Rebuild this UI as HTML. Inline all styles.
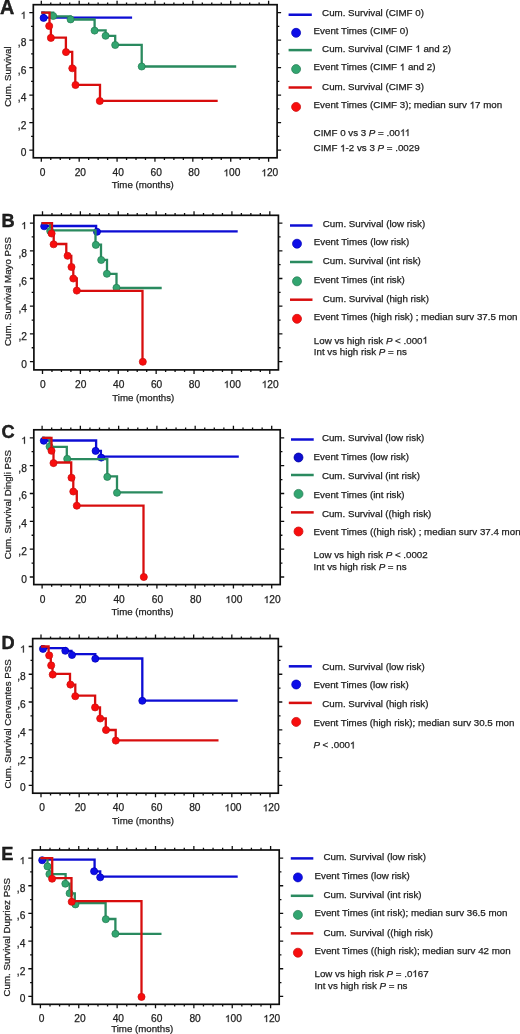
<!DOCTYPE html>
<html><head><meta charset="utf-8"><title>Kaplan-Meier survival curves</title>
<style>
html,body{margin:0;padding:0;background:#fff;}
body{width:520px;height:1034px;overflow:hidden;}
svg{display:block;}
text{font-family:"Liberation Sans", sans-serif;fill:#222;stroke:#222;stroke-width:0.25px;}
.o{fill:transparent;stroke:none;}
</style></head>
<body>
<svg width="520" height="1034" viewBox="0 0 520 1034">
<defs><filter id="soft" x="0" y="0" width="100%" height="100%"><feGaussianBlur stdDeviation="0.35"/></filter></defs>
<rect width="520" height="1034" fill="#fff"/>
<g filter="url(#soft)">
<path d="M41.3,157.8v4M41.3,4.7v-4M50.77,157.8v2.2M50.77,4.7v-2.2M60.24,157.8v2.2M60.24,4.7v-2.2M69.71,157.8v2.2M69.71,4.7v-2.2M79.18,157.8v4M79.18,4.7v-4M88.65,157.8v2.2M88.65,4.7v-2.2M98.12,157.8v2.2M98.12,4.7v-2.2M107.6,157.8v2.2M107.6,4.7v-2.2M117.07,157.8v4M117.07,4.7v-4M126.54,157.8v2.2M126.54,4.7v-2.2M136.01,157.8v2.2M136.01,4.7v-2.2M145.48,157.8v2.2M145.48,4.7v-2.2M154.95,157.8v4M154.95,4.7v-4M164.42,157.8v2.2M164.42,4.7v-2.2M173.89,157.8v2.2M173.89,4.7v-2.2M183.36,157.8v2.2M183.36,4.7v-2.2M192.83,157.8v4M192.83,4.7v-4M202.3,157.8v2.2M202.3,4.7v-2.2M211.78,157.8v2.2M211.78,4.7v-2.2M221.25,157.8v2.2M221.25,4.7v-2.2M230.72,157.8v4M230.72,4.7v-4M240.19,157.8v2.2M240.19,4.7v-2.2M249.66,157.8v2.2M249.66,4.7v-2.2M259.13,157.8v2.2M259.13,4.7v-2.2M268.6,157.8v4M268.6,4.7v-4M33.3,150.2h-4M277.1,150.2h4M33.3,136.45h-2.2M277.1,136.45h2.2M33.3,122.7h-4M277.1,122.7h4M33.3,108.95h-2.2M277.1,108.95h2.2M33.3,95.2h-4M277.1,95.2h4M33.3,81.45h-2.2M277.1,81.45h2.2M33.3,67.7h-4M277.1,67.7h4M33.3,53.95h-2.2M277.1,53.95h2.2M33.3,40.2h-4M277.1,40.2h4M33.3,26.45h-2.2M277.1,26.45h2.2M33.3,12.7h-4M277.1,12.7h4" stroke="#111" stroke-width="1.3" fill="none"/>
<rect x="33.3" y="4.7" width="243.8" height="153.1" fill="none" stroke="#111" stroke-width="1.7"/>
<text x="26.3" y="156.2" text-anchor="end" font-size="10.2">0</text>
<text x="26.3" y="128.7" text-anchor="end" font-size="10.2">,2</text>
<text x="26.3" y="101.2" text-anchor="end" font-size="10.2">,4</text>
<text x="26.3" y="73.7" text-anchor="end" font-size="10.2">,6</text>
<text x="26.3" y="46.2" text-anchor="end" font-size="10.2">,8</text>
<text x="26.3" y="18.7" text-anchor="end" font-size="10.2"><tspan class="o">1</tspan></text>
<text x="42.5" y="176.2" text-anchor="middle" font-size="10.2">0</text>
<text x="80.38" y="176.2" text-anchor="middle" font-size="10.2">20</text>
<text x="118.27" y="176.2" text-anchor="middle" font-size="10.2">40</text>
<text x="156.15" y="176.2" text-anchor="middle" font-size="10.2">60</text>
<text x="194.03" y="176.2" text-anchor="middle" font-size="10.2">80</text>
<text x="231.92" y="176.2" text-anchor="middle" font-size="10.2"><tspan class="o">1</tspan>00</text>
<text x="269.8" y="176.2" text-anchor="middle" font-size="10.2"><tspan class="o">1</tspan>20</text>
<text x="142.7" y="188.4" text-anchor="middle" font-size="9.7">Time (months)</text>
<text transform="translate(11.3,76.6) rotate(-90)" text-anchor="middle" font-size="9.7">Cum. Survival</text>
<text x="0" y="13.6" font-size="19.8" font-weight="bold" fill="#000" style="stroke:#000;stroke-width:0.35px">A</text>
<path d="M41.3,12.7 H43.6 V17.6 H132.1" stroke="#0c0cd4" stroke-width="2.3" fill="none"/>
<circle cx="43.6" cy="17.9" r="3.55" fill="#0c0ce8" stroke="#0000b4" stroke-width="0.7"/>
<path d="M41.3,12.7 H53.2 V16.3 H70.6 V19.5 H94.6 V30.4 H105.6 V35.8 H115.2 V44.9 H141.7 V66.5 H236.2" stroke="#2a8a5e" stroke-width="2.3" fill="none"/>
<circle cx="53.2" cy="16" r="3.55" fill="#33a56f" stroke="#237a52" stroke-width="0.7"/>
<circle cx="70.6" cy="19.4" r="3.55" fill="#33a56f" stroke="#237a52" stroke-width="0.7"/>
<circle cx="94.6" cy="30.6" r="3.55" fill="#33a56f" stroke="#237a52" stroke-width="0.7"/>
<circle cx="105.6" cy="35.8" r="3.55" fill="#33a56f" stroke="#237a52" stroke-width="0.7"/>
<circle cx="115.2" cy="45" r="3.55" fill="#33a56f" stroke="#237a52" stroke-width="0.7"/>
<circle cx="141.7" cy="66.5" r="3.55" fill="#33a56f" stroke="#237a52" stroke-width="0.7"/>
<path d="M41.3,12.7 H49.5 V26 H50.9 V37.6 H65.9 V51.8 H72.2 V68 H75.3 V84.8 H100 V100.8 H217.7" stroke="#d81010" stroke-width="2.3" fill="none"/>
<circle cx="49.2" cy="26" r="3.55" fill="#f80a0a" stroke="#c80808" stroke-width="0.7"/>
<circle cx="50.9" cy="37.9" r="3.55" fill="#f80a0a" stroke="#c80808" stroke-width="0.7"/>
<circle cx="66" cy="52.1" r="3.55" fill="#f80a0a" stroke="#c80808" stroke-width="0.7"/>
<circle cx="72.3" cy="68.3" r="3.55" fill="#f80a0a" stroke="#c80808" stroke-width="0.7"/>
<circle cx="75.5" cy="85" r="3.55" fill="#f80a0a" stroke="#c80808" stroke-width="0.7"/>
<circle cx="99.8" cy="101" r="3.55" fill="#f80a0a" stroke="#c80808" stroke-width="0.7"/>
<path d="M288.6,14.75H311.8" stroke="#0c0cd4" stroke-width="2.5"/>
<text x="322.1" y="16.2" font-size="9.75">Cum. Survival (CIMF 0)</text>
<circle cx="296.1" cy="32.8" r="4.5" fill="#0c0ce8" stroke="#0000b4" stroke-width="0.7"/>
<text x="313.6" y="34.4" font-size="9.75">Event Times (CIMF 0)</text>
<path d="M288.6,50.1H311.8" stroke="#2a8a5e" stroke-width="2.5"/>
<text x="322.1" y="52" font-size="9.75">Cum. Survival (CIMF <tspan class="o">1</tspan> and 2)</text>
<circle cx="296.1" cy="69.1" r="4.5" fill="#33a56f" stroke="#237a52" stroke-width="0.7"/>
<text x="313.6" y="70.4" font-size="9.75">Event Times (CIMF <tspan class="o">1</tspan> and 2)</text>
<path d="M288.6,87.5H311.8" stroke="#d81010" stroke-width="2.5"/>
<text x="322.1" y="89.6" font-size="9.75">Cum. Survival (CIMF 3)</text>
<circle cx="296.1" cy="106.9" r="4.5" fill="#f80a0a" stroke="#c80808" stroke-width="0.7"/>
<text x="313.6" y="108.4" font-size="9.75">Event Times (CIMF 3); median surv <tspan class="o">1</tspan>7 mon</text>
<text x="313.6" y="136" font-size="9.75">CIMF 0 vs 3 <tspan font-style="italic">P</tspan> = .00<tspan class="o">1</tspan><tspan class="o">1</tspan></text>
<text x="313.6" y="151.4" font-size="9.75">CIMF <tspan class="o">1</tspan>-2 vs 3 <tspan font-style="italic">P</tspan> = .0029</text>
<path d="M42.5,369.9v4M42.5,215.3v-4M51.97,369.9v2.2M51.97,215.3v-2.2M61.44,369.9v2.2M61.44,215.3v-2.2M70.91,369.9v2.2M70.91,215.3v-2.2M80.38,369.9v4M80.38,215.3v-4M89.85,369.9v2.2M89.85,215.3v-2.2M99.33,369.9v2.2M99.33,215.3v-2.2M108.8,369.9v2.2M108.8,215.3v-2.2M118.27,369.9v4M118.27,215.3v-4M127.74,369.9v2.2M127.74,215.3v-2.2M137.21,369.9v2.2M137.21,215.3v-2.2M146.68,369.9v2.2M146.68,215.3v-2.2M156.15,369.9v4M156.15,215.3v-4M165.62,369.9v2.2M165.62,215.3v-2.2M175.09,369.9v2.2M175.09,215.3v-2.2M184.56,369.9v2.2M184.56,215.3v-2.2M194.03,369.9v4M194.03,215.3v-4M203.5,369.9v2.2M203.5,215.3v-2.2M212.98,369.9v2.2M212.98,215.3v-2.2M222.45,369.9v2.2M222.45,215.3v-2.2M231.92,369.9v4M231.92,215.3v-4M241.39,369.9v2.2M241.39,215.3v-2.2M250.86,369.9v2.2M250.86,215.3v-2.2M260.33,369.9v2.2M260.33,215.3v-2.2M269.8,369.9v4M269.8,215.3v-4M33.9,361.6h-4M278.4,361.6h4M33.9,347.75h-2.2M278.4,347.75h2.2M33.9,333.9h-4M278.4,333.9h4M33.9,320.05h-2.2M278.4,320.05h2.2M33.9,306.2h-4M278.4,306.2h4M33.9,292.35h-2.2M278.4,292.35h2.2M33.9,278.5h-4M278.4,278.5h4M33.9,264.65h-2.2M278.4,264.65h2.2M33.9,250.8h-4M278.4,250.8h4M33.9,236.95h-2.2M278.4,236.95h2.2M33.9,223.1h-4M278.4,223.1h4" stroke="#111" stroke-width="1.3" fill="none"/>
<rect x="33.9" y="215.3" width="244.5" height="154.6" fill="none" stroke="#111" stroke-width="1.7"/>
<text x="26.9" y="367.6" text-anchor="end" font-size="10.2">0</text>
<text x="26.9" y="339.9" text-anchor="end" font-size="10.2">,2</text>
<text x="26.9" y="312.2" text-anchor="end" font-size="10.2">,4</text>
<text x="26.9" y="284.5" text-anchor="end" font-size="10.2">,6</text>
<text x="26.9" y="256.8" text-anchor="end" font-size="10.2">,8</text>
<text x="26.9" y="229.1" text-anchor="end" font-size="10.2"><tspan class="o">1</tspan></text>
<text x="42.9" y="387.8" text-anchor="middle" font-size="10.2">0</text>
<text x="80.78" y="387.8" text-anchor="middle" font-size="10.2">20</text>
<text x="118.67" y="387.8" text-anchor="middle" font-size="10.2">40</text>
<text x="156.55" y="387.8" text-anchor="middle" font-size="10.2">60</text>
<text x="194.43" y="387.8" text-anchor="middle" font-size="10.2">80</text>
<text x="232.32" y="387.8" text-anchor="middle" font-size="10.2"><tspan class="o">1</tspan>00</text>
<text x="270.2" y="387.8" text-anchor="middle" font-size="10.2"><tspan class="o">1</tspan>20</text>
<text x="143.25" y="401.4" text-anchor="middle" font-size="9.7">Time (months)</text>
<text transform="translate(11.2,291.5) rotate(-90)" text-anchor="middle" font-size="9.7">Cum. Survival Mayo PSS</text>
<text x="1.6" y="227.1" font-size="18.2" font-weight="bold" fill="#000" style="stroke:#000;stroke-width:0.35px">B</text>
<path d="M41.6,223.1 H44.2 V226 H96.1 V231.3 H237.7" stroke="#0c0cd4" stroke-width="2.3" fill="none"/>
<circle cx="44.2" cy="226.3" r="3.55" fill="#0c0ce8" stroke="#0000b4" stroke-width="0.7"/>
<circle cx="97" cy="231.8" r="3.55" fill="#0c0ce8" stroke="#0000b4" stroke-width="0.7"/>
<path d="M41.6,223.1 H50.2 V230.4 H95.5 V244.7 H101 V259.8 H107 V273.8 H116.5 V288 H161.7" stroke="#2a8a5e" stroke-width="2.3" fill="none"/>
<circle cx="50.2" cy="231" r="3.55" fill="#33a56f" stroke="#237a52" stroke-width="0.7"/>
<circle cx="95.8" cy="244.9" r="3.55" fill="#33a56f" stroke="#237a52" stroke-width="0.7"/>
<circle cx="101.2" cy="260" r="3.55" fill="#33a56f" stroke="#237a52" stroke-width="0.7"/>
<circle cx="106.9" cy="273.8" r="3.55" fill="#33a56f" stroke="#237a52" stroke-width="0.7"/>
<circle cx="116.5" cy="287.8" r="3.55" fill="#33a56f" stroke="#237a52" stroke-width="0.7"/>
<path d="M41.6,223.1 H52 V233.5 H53.7 V244 H66.3 V255.8 H71.3 V267 H73.3 V278.5 H76.8 V290.8 H142.5 V361.6" stroke="#d81010" stroke-width="2.3" fill="none"/>
<circle cx="51.6" cy="233.5" r="3.55" fill="#f80a0a" stroke="#c80808" stroke-width="0.7"/>
<circle cx="53.6" cy="244.3" r="3.55" fill="#f80a0a" stroke="#c80808" stroke-width="0.7"/>
<circle cx="67.6" cy="255.8" r="3.55" fill="#f80a0a" stroke="#c80808" stroke-width="0.7"/>
<circle cx="71.5" cy="267" r="3.55" fill="#f80a0a" stroke="#c80808" stroke-width="0.7"/>
<circle cx="73.3" cy="278.5" r="3.55" fill="#f80a0a" stroke="#c80808" stroke-width="0.7"/>
<circle cx="76.8" cy="290.6" r="3.55" fill="#f80a0a" stroke="#c80808" stroke-width="0.7"/>
<circle cx="142.8" cy="361.8" r="3.55" fill="#f80a0a" stroke="#c80808" stroke-width="0.7"/>
<path d="M290,225.5H312.5" stroke="#0c0cd4" stroke-width="2.5"/>
<text x="322.8" y="227.3" font-size="9.75">Cum. Survival (low risk)</text>
<circle cx="297" cy="243.7" r="4.5" fill="#0c0ce8" stroke="#0000b4" stroke-width="0.7"/>
<text x="313.8" y="244.9" font-size="9.75">Event Times (low risk)</text>
<path d="M290,262H312.5" stroke="#2a8a5e" stroke-width="2.5"/>
<text x="322.8" y="264.1" font-size="9.75">Cum. Survival (int risk)</text>
<circle cx="297" cy="281.3" r="4.5" fill="#33a56f" stroke="#237a52" stroke-width="0.7"/>
<text x="313.8" y="282.6" font-size="9.75">Event Times (int risk)</text>
<path d="M290,299.7H312.5" stroke="#d81010" stroke-width="2.5"/>
<text x="322.8" y="301.5" font-size="9.75">Cum. Survival (high risk)</text>
<circle cx="297" cy="318.8" r="4.5" fill="#f80a0a" stroke="#c80808" stroke-width="0.7"/>
<text x="313.8" y="319.8" font-size="9.75">Event Times (high risk) ; median surv 37.5 mon</text>
<text x="313.8" y="343.5" font-size="9.75">Low vs high risk <tspan font-style="italic">P</tspan> &lt; .000<tspan class="o">1</tspan></text>
<text x="313.8" y="355.1" font-size="9.75">Int vs high risk <tspan font-style="italic">P</tspan> = ns</text>
<path d="M42.1,584.6v4M42.1,429.8v-4M51.67,584.6v2.2M51.67,429.8v-2.2M61.23,584.6v2.2M61.23,429.8v-2.2M70.8,584.6v2.2M70.8,429.8v-2.2M80.37,584.6v4M80.37,429.8v-4M89.93,584.6v2.2M89.93,429.8v-2.2M99.5,584.6v2.2M99.5,429.8v-2.2M109.07,584.6v2.2M109.07,429.8v-2.2M118.63,584.6v4M118.63,429.8v-4M128.2,584.6v2.2M128.2,429.8v-2.2M137.77,584.6v2.2M137.77,429.8v-2.2M147.33,584.6v2.2M147.33,429.8v-2.2M156.9,584.6v4M156.9,429.8v-4M166.47,584.6v2.2M166.47,429.8v-2.2M176.03,584.6v2.2M176.03,429.8v-2.2M185.6,584.6v2.2M185.6,429.8v-2.2M195.17,584.6v4M195.17,429.8v-4M204.73,584.6v2.2M204.73,429.8v-2.2M214.3,584.6v2.2M214.3,429.8v-2.2M223.87,584.6v2.2M223.87,429.8v-2.2M233.43,584.6v4M233.43,429.8v-4M243,584.6v2.2M243,429.8v-2.2M252.57,584.6v2.2M252.57,429.8v-2.2M262.13,584.6v2.2M262.13,429.8v-2.2M271.7,584.6v4M271.7,429.8v-4M33.8,577h-4M280.2,577h4M33.8,563.08h-2.2M280.2,563.08h2.2M33.8,549.16h-4M280.2,549.16h4M33.8,535.24h-2.2M280.2,535.24h2.2M33.8,521.32h-4M280.2,521.32h4M33.8,507.4h-2.2M280.2,507.4h2.2M33.8,493.48h-4M280.2,493.48h4M33.8,479.56h-2.2M280.2,479.56h2.2M33.8,465.64h-4M280.2,465.64h4M33.8,451.72h-2.2M280.2,451.72h2.2M33.8,437.8h-4M280.2,437.8h4" stroke="#111" stroke-width="1.3" fill="none"/>
<rect x="33.8" y="429.8" width="246.4" height="154.8" fill="none" stroke="#111" stroke-width="1.7"/>
<text x="26.8" y="583" text-anchor="end" font-size="10.2">0</text>
<text x="26.8" y="555.16" text-anchor="end" font-size="10.2">,2</text>
<text x="26.8" y="527.32" text-anchor="end" font-size="10.2">,4</text>
<text x="26.8" y="499.48" text-anchor="end" font-size="10.2">,6</text>
<text x="26.8" y="471.64" text-anchor="end" font-size="10.2">,8</text>
<text x="26.8" y="443.8" text-anchor="end" font-size="10.2"><tspan class="o">1</tspan></text>
<text x="42.6" y="603" text-anchor="middle" font-size="10.2">0</text>
<text x="80.87" y="603" text-anchor="middle" font-size="10.2">20</text>
<text x="119.13" y="603" text-anchor="middle" font-size="10.2">40</text>
<text x="157.4" y="603" text-anchor="middle" font-size="10.2">60</text>
<text x="195.67" y="603" text-anchor="middle" font-size="10.2">80</text>
<text x="233.93" y="603" text-anchor="middle" font-size="10.2"><tspan class="o">1</tspan>00</text>
<text x="272.2" y="603" text-anchor="middle" font-size="10.2"><tspan class="o">1</tspan>20</text>
<text x="142.5" y="614.9" text-anchor="middle" font-size="9.7">Time (months)</text>
<text transform="translate(11.2,504.7) rotate(-90)" text-anchor="middle" font-size="9.7">Cum. Survival Dingli PSS</text>
<text x="1.4" y="438.1" font-size="18.2" font-weight="bold" fill="#000" style="stroke:#000;stroke-width:0.35px">C</text>
<path d="M42.1,437.8 H43.8 V440.5 H96.1 V450.9 H100.9 V456.6 H238.8" stroke="#0c0cd4" stroke-width="2.3" fill="none"/>
<circle cx="43.8" cy="440.8" r="3.55" fill="#0c0ce8" stroke="#0000b4" stroke-width="0.7"/>
<circle cx="95.6" cy="450.9" r="3.55" fill="#0c0ce8" stroke="#0000b4" stroke-width="0.7"/>
<circle cx="101.2" cy="457.6" r="3.55" fill="#0c0ce8" stroke="#0000b4" stroke-width="0.7"/>
<path d="M42.1,437.8 H49.6 V446.9 H66.8 V459.2 H107.3 V476.3 H117 V492.3 H162.7" stroke="#2a8a5e" stroke-width="2.3" fill="none"/>
<circle cx="49.6" cy="446.6" r="3.55" fill="#33a56f" stroke="#237a52" stroke-width="0.7"/>
<circle cx="67.2" cy="458.9" r="3.55" fill="#33a56f" stroke="#237a52" stroke-width="0.7"/>
<circle cx="107.3" cy="476.9" r="3.55" fill="#33a56f" stroke="#237a52" stroke-width="0.7"/>
<circle cx="117" cy="492.8" r="3.55" fill="#33a56f" stroke="#237a52" stroke-width="0.7"/>
<path d="M42.1,437.8 H51.5 V450.8 H53.5 V462.5 H71.2 V477.7 H73.3 V491.5 H76.8 V505.6 H143.5 V577" stroke="#d81010" stroke-width="2.3" fill="none"/>
<circle cx="51.5" cy="450.8" r="3.55" fill="#f80a0a" stroke="#c80808" stroke-width="0.7"/>
<circle cx="53.5" cy="463.1" r="3.55" fill="#f80a0a" stroke="#c80808" stroke-width="0.7"/>
<circle cx="71.5" cy="477.7" r="3.55" fill="#f80a0a" stroke="#c80808" stroke-width="0.7"/>
<circle cx="73.3" cy="491.5" r="3.55" fill="#f80a0a" stroke="#c80808" stroke-width="0.7"/>
<circle cx="76.8" cy="505.7" r="3.55" fill="#f80a0a" stroke="#c80808" stroke-width="0.7"/>
<circle cx="143.8" cy="577" r="3.55" fill="#f80a0a" stroke="#c80808" stroke-width="0.7"/>
<path d="M291,439.5H313.7" stroke="#0c0cd4" stroke-width="2.5"/>
<text x="321.9" y="441.3" font-size="9.75">Cum. Survival (low risk)</text>
<circle cx="298.5" cy="457.5" r="4.5" fill="#0a0ad0" stroke="#00009c" stroke-width="0.7"/>
<text x="313.6" y="460.2" font-size="9.75">Event Times (low risk)</text>
<path d="M291,475H313.7" stroke="#2a8a5e" stroke-width="2.5"/>
<text x="321.9" y="478.9" font-size="9.75">Cum. Survival (int risk)</text>
<circle cx="298.5" cy="493.9" r="4.5" fill="#33a56f" stroke="#237a52" stroke-width="0.7"/>
<text x="313.6" y="497.5" font-size="9.75">Event Times (int risk)</text>
<path d="M291,512.4H313.7" stroke="#d81010" stroke-width="2.5"/>
<text x="321.9" y="516.5" font-size="9.75">Cum. Survival ((high risk)</text>
<circle cx="298.5" cy="531.5" r="4.5" fill="#f80a0a" stroke="#c80808" stroke-width="0.7"/>
<text x="313.6" y="534.8" font-size="9.75">Event Times ((high risk) ; median surv 37.4 mon</text>
<text x="313.6" y="558.3" font-size="9.75">Low vs high risk <tspan font-style="italic">P</tspan> &lt; .0002</text>
<text x="313.6" y="570.1" font-size="9.75">Int vs high risk <tspan font-style="italic">P</tspan> = ns</text>
<path d="M41,793.2v4M41,638.6v-4M50.54,793.2v2.2M50.54,638.6v-2.2M60.08,793.2v2.2M60.08,638.6v-2.2M69.62,793.2v2.2M69.62,638.6v-2.2M79.17,793.2v4M79.17,638.6v-4M88.71,793.2v2.2M88.71,638.6v-2.2M98.25,793.2v2.2M98.25,638.6v-2.2M107.79,793.2v2.2M107.79,638.6v-2.2M117.33,793.2v4M117.33,638.6v-4M126.88,793.2v2.2M126.88,638.6v-2.2M136.42,793.2v2.2M136.42,638.6v-2.2M145.96,793.2v2.2M145.96,638.6v-2.2M155.5,793.2v4M155.5,638.6v-4M165.04,793.2v2.2M165.04,638.6v-2.2M174.58,793.2v2.2M174.58,638.6v-2.2M184.12,793.2v2.2M184.12,638.6v-2.2M193.67,793.2v4M193.67,638.6v-4M203.21,793.2v2.2M203.21,638.6v-2.2M212.75,793.2v2.2M212.75,638.6v-2.2M222.29,793.2v2.2M222.29,638.6v-2.2M231.83,793.2v4M231.83,638.6v-4M241.38,793.2v2.2M241.38,638.6v-2.2M250.92,793.2v2.2M250.92,638.6v-2.2M260.46,793.2v2.2M260.46,638.6v-2.2M270,793.2v4M270,638.6v-4M32.7,785.3h-4M278.3,785.3h4M32.7,771.42h-2.2M278.3,771.42h2.2M32.7,757.54h-4M278.3,757.54h4M32.7,743.66h-2.2M278.3,743.66h2.2M32.7,729.78h-4M278.3,729.78h4M32.7,715.9h-2.2M278.3,715.9h2.2M32.7,702.02h-4M278.3,702.02h4M32.7,688.14h-2.2M278.3,688.14h2.2M32.7,674.26h-4M278.3,674.26h4M32.7,660.38h-2.2M278.3,660.38h2.2M32.7,646.5h-4M278.3,646.5h4" stroke="#111" stroke-width="1.3" fill="none"/>
<rect x="32.7" y="638.6" width="245.6" height="154.6" fill="none" stroke="#111" stroke-width="1.7"/>
<text x="25.7" y="791.3" text-anchor="end" font-size="10.2">0</text>
<text x="25.7" y="763.54" text-anchor="end" font-size="10.2">,2</text>
<text x="25.7" y="735.78" text-anchor="end" font-size="10.2">,4</text>
<text x="25.7" y="708.02" text-anchor="end" font-size="10.2">,6</text>
<text x="25.7" y="680.26" text-anchor="end" font-size="10.2">,8</text>
<text x="25.7" y="652.5" text-anchor="end" font-size="10.2"><tspan class="o">1</tspan></text>
<text x="42.2" y="811.3" text-anchor="middle" font-size="10.2">0</text>
<text x="80.37" y="811.3" text-anchor="middle" font-size="10.2">20</text>
<text x="118.53" y="811.3" text-anchor="middle" font-size="10.2">40</text>
<text x="156.7" y="811.3" text-anchor="middle" font-size="10.2">60</text>
<text x="194.87" y="811.3" text-anchor="middle" font-size="10.2">80</text>
<text x="233.03" y="811.3" text-anchor="middle" font-size="10.2"><tspan class="o">1</tspan>00</text>
<text x="271.2" y="811.3" text-anchor="middle" font-size="10.2"><tspan class="o">1</tspan>20</text>
<text x="143" y="824.1" text-anchor="middle" font-size="9.7">Time (months)</text>
<text transform="translate(11.2,724) rotate(-90)" text-anchor="middle" font-size="9.7">Cum. Survival Cervantes PSS</text>
<text x="1.6" y="648.8" font-size="18.2" font-weight="bold" fill="#000" style="stroke:#000;stroke-width:0.35px">D</text>
<path d="M41,646.5 H43 V648.1 H65.4 V650.8 H71.5 V654.1 H95.3 V658.5 H142.3 V700.6 H237.7" stroke="#0c0cd4" stroke-width="2.3" fill="none"/>
<circle cx="43" cy="648.9" r="3.55" fill="#0c0ce8" stroke="#0000b4" stroke-width="0.7"/>
<circle cx="65.3" cy="650.8" r="3.55" fill="#0c0ce8" stroke="#0000b4" stroke-width="0.7"/>
<circle cx="72" cy="655" r="3.55" fill="#0c0ce8" stroke="#0000b4" stroke-width="0.7"/>
<circle cx="95.3" cy="658.7" r="3.55" fill="#0c0ce8" stroke="#0000b4" stroke-width="0.7"/>
<circle cx="142.3" cy="700.8" r="3.55" fill="#0c0ce8" stroke="#0000b4" stroke-width="0.7"/>
<path d="M41,646.5 H48.6 V655.4 H50.8 V665.4 H52.5 V673.8 H70 V684.6 H75.3 V695.6 H95.1 V707.4 H100 V718.5 H105.8 V730 H115.7 V740.3 H218.5" stroke="#d81010" stroke-width="2.3" fill="none"/>
<circle cx="49.2" cy="655.4" r="3.55" fill="#f80a0a" stroke="#c80808" stroke-width="0.7"/>
<circle cx="51.2" cy="665.4" r="3.55" fill="#f80a0a" stroke="#c80808" stroke-width="0.7"/>
<circle cx="52.7" cy="674.6" r="3.55" fill="#f80a0a" stroke="#c80808" stroke-width="0.7"/>
<circle cx="70.4" cy="684.6" r="3.55" fill="#f80a0a" stroke="#c80808" stroke-width="0.7"/>
<circle cx="75.3" cy="696.2" r="3.55" fill="#f80a0a" stroke="#c80808" stroke-width="0.7"/>
<circle cx="95.1" cy="707.4" r="3.55" fill="#f80a0a" stroke="#c80808" stroke-width="0.7"/>
<circle cx="100.2" cy="718.5" r="3.55" fill="#f80a0a" stroke="#c80808" stroke-width="0.7"/>
<circle cx="106" cy="730" r="3.55" fill="#f80a0a" stroke="#c80808" stroke-width="0.7"/>
<circle cx="115.8" cy="740.6" r="3.55" fill="#f80a0a" stroke="#c80808" stroke-width="0.7"/>
<path d="M288.8,666.3H311.8" stroke="#0c0cd4" stroke-width="2.5"/>
<text x="322.3" y="669.6" font-size="9.75">Cum. Survival (low risk)</text>
<circle cx="296.2" cy="684.5" r="4.5" fill="#0c0ce8" stroke="#0000b4" stroke-width="0.7"/>
<text x="313.4" y="688.4" font-size="9.75">Event Times (low risk)</text>
<path d="M288.8,702.9H311.8" stroke="#d81010" stroke-width="2.5"/>
<text x="322.3" y="707.1" font-size="9.75">Cum. Survival (high risk)</text>
<circle cx="296.2" cy="721.9" r="4.5" fill="#f80a0a" stroke="#c80808" stroke-width="0.7"/>
<text x="313.4" y="725.5" font-size="9.75">Event Times (high risk); median surv 30.5 mon</text>
<text x="313.4" y="748.4" font-size="9.75"><tspan font-style="italic">P</tspan> &lt; .000<tspan class="o">1</tspan></text>
<path d="M40.4,1004.3v4M40.4,850v-4M49.99,1004.3v2.2M49.99,850v-2.2M59.58,1004.3v2.2M59.58,850v-2.2M69.17,1004.3v2.2M69.17,850v-2.2M78.77,1004.3v4M78.77,850v-4M88.36,1004.3v2.2M88.36,850v-2.2M97.95,1004.3v2.2M97.95,850v-2.2M107.54,1004.3v2.2M107.54,850v-2.2M117.13,1004.3v4M117.13,850v-4M126.72,1004.3v2.2M126.72,850v-2.2M136.32,1004.3v2.2M136.32,850v-2.2M145.91,1004.3v2.2M145.91,850v-2.2M155.5,1004.3v4M155.5,850v-4M165.09,1004.3v2.2M165.09,850v-2.2M174.68,1004.3v2.2M174.68,850v-2.2M184.28,1004.3v2.2M184.28,850v-2.2M193.87,1004.3v4M193.87,850v-4M203.46,1004.3v2.2M203.46,850v-2.2M213.05,1004.3v2.2M213.05,850v-2.2M222.64,1004.3v2.2M222.64,850v-2.2M232.23,1004.3v4M232.23,850v-4M241.83,1004.3v2.2M241.83,850v-2.2M251.42,1004.3v2.2M251.42,850v-2.2M261.01,1004.3v2.2M261.01,850v-2.2M270.6,1004.3v4M270.6,850v-4M32.3,996.4h-4M279.2,996.4h4M32.3,982.57h-2.2M279.2,982.57h2.2M32.3,968.74h-4M279.2,968.74h4M32.3,954.91h-2.2M279.2,954.91h2.2M32.3,941.08h-4M279.2,941.08h4M32.3,927.25h-2.2M279.2,927.25h2.2M32.3,913.42h-4M279.2,913.42h4M32.3,899.59h-2.2M279.2,899.59h2.2M32.3,885.76h-4M279.2,885.76h4M32.3,871.93h-2.2M279.2,871.93h2.2M32.3,858.1h-4M279.2,858.1h4" stroke="#111" stroke-width="1.3" fill="none"/>
<rect x="32.3" y="850" width="246.9" height="154.3" fill="none" stroke="#111" stroke-width="1.7"/>
<text x="25.3" y="1002.4" text-anchor="end" font-size="10.2">0</text>
<text x="25.3" y="974.74" text-anchor="end" font-size="10.2">,2</text>
<text x="25.3" y="947.08" text-anchor="end" font-size="10.2">,4</text>
<text x="25.3" y="919.42" text-anchor="end" font-size="10.2">,6</text>
<text x="25.3" y="891.76" text-anchor="end" font-size="10.2">,8</text>
<text x="25.3" y="864.1" text-anchor="end" font-size="10.2"><tspan class="o">1</tspan></text>
<text x="41.6" y="1022" text-anchor="middle" font-size="10.2">0</text>
<text x="79.97" y="1022" text-anchor="middle" font-size="10.2">20</text>
<text x="118.33" y="1022" text-anchor="middle" font-size="10.2">40</text>
<text x="156.7" y="1022" text-anchor="middle" font-size="10.2">60</text>
<text x="195.07" y="1022" text-anchor="middle" font-size="10.2">80</text>
<text x="233.43" y="1022" text-anchor="middle" font-size="10.2"><tspan class="o">1</tspan>00</text>
<text x="271.8" y="1022" text-anchor="middle" font-size="10.2"><tspan class="o">1</tspan>20</text>
<text x="142.2" y="1031.8" text-anchor="middle" font-size="9.7">Time (months)</text>
<text transform="translate(10,937.2) rotate(-90)" text-anchor="middle" font-size="9.7">Cum. Survival Dupriez PSS</text>
<text x="1.2" y="859.7" font-size="18.2" font-weight="bold" fill="#000" style="stroke:#000;stroke-width:0.35px">E</text>
<path d="M40.4,858.1 H42.2 V859.6 H94.6 V871.3 H100.2 V876.6 H237.7" stroke="#0c0cd4" stroke-width="2.3" fill="none"/>
<circle cx="42.2" cy="860.2" r="3.55" fill="#0c0ce8" stroke="#0000b4" stroke-width="0.7"/>
<circle cx="94.1" cy="871.3" r="3.55" fill="#0c0ce8" stroke="#0000b4" stroke-width="0.7"/>
<circle cx="100.2" cy="877.3" r="3.55" fill="#0c0ce8" stroke="#0000b4" stroke-width="0.7"/>
<path d="M40.4,858.1 H47.5 V866.4 H49.4 V874.2 H65.6 V883.7 H69.6 V893.3 H74.8 V903.2 H105.6 V919 H115.4 V933.8 H161.5" stroke="#2a8a5e" stroke-width="2.3" fill="none"/>
<circle cx="47.5" cy="866.4" r="3.55" fill="#33a56f" stroke="#237a52" stroke-width="0.7"/>
<circle cx="49.4" cy="874.1" r="3.55" fill="#33a56f" stroke="#237a52" stroke-width="0.7"/>
<circle cx="65.3" cy="883.7" r="3.55" fill="#33a56f" stroke="#237a52" stroke-width="0.7"/>
<circle cx="69.6" cy="893.3" r="3.55" fill="#33a56f" stroke="#237a52" stroke-width="0.7"/>
<circle cx="75.4" cy="904.4" r="3.55" fill="#33a56f" stroke="#237a52" stroke-width="0.7"/>
<circle cx="105.8" cy="919.2" r="3.55" fill="#33a56f" stroke="#237a52" stroke-width="0.7"/>
<circle cx="115.4" cy="933.8" r="3.55" fill="#33a56f" stroke="#237a52" stroke-width="0.7"/>
<path d="M40.4,858.1 H52.2 V878.2 H71.5 V901.2 H141.5 V996.4" stroke="#d81010" stroke-width="2.3" fill="none"/>
<circle cx="52.1" cy="878.7" r="3.55" fill="#f80a0a" stroke="#c80808" stroke-width="0.7"/>
<circle cx="71.7" cy="901.8" r="3.55" fill="#f80a0a" stroke="#c80808" stroke-width="0.7"/>
<circle cx="141.5" cy="996.9" r="3.55" fill="#f80a0a" stroke="#c80808" stroke-width="0.7"/>
<path d="M290.8,858.4H313.3" stroke="#0c0cd4" stroke-width="2.5"/>
<text x="323.5" y="860.4" font-size="9.75">Cum. Survival (low risk)</text>
<circle cx="297.9" cy="877.4" r="4.5" fill="#0c0ce8" stroke="#0000b4" stroke-width="0.7"/>
<text x="314.5" y="878.9" font-size="9.75">Event Times (low risk)</text>
<path d="M290.8,895.8H313.3" stroke="#2a8a5e" stroke-width="2.5"/>
<text x="323.5" y="897.9" font-size="9.75">Cum. Survival (int risk)</text>
<circle cx="297.9" cy="914.9" r="4.5" fill="#33a56f" stroke="#237a52" stroke-width="0.7"/>
<text x="314.5" y="916.4" font-size="9.75">Event Times (int risk); median surv 36.5 mon</text>
<path d="M290.8,933.4H313.3" stroke="#d81010" stroke-width="2.5"/>
<text x="323.5" y="935.5" font-size="9.75">Cum. Survival ((high risk)</text>
<circle cx="297.9" cy="952.7" r="4.5" fill="#f80a0a" stroke="#c80808" stroke-width="0.7"/>
<text x="314.5" y="953.8" font-size="9.75">Event Times ((high risk); median surv 42 mon</text>
<text x="314.5" y="977" font-size="9.75">Low vs high risk <tspan font-style="italic">P</tspan> = .0<tspan class="o">1</tspan>67</text>
<text x="314.5" y="988.5" font-size="9.75">Int vs high risk <tspan font-style="italic">P</tspan> = ns</text>
<path d="M763,0H583V1100Q470,990 223,890V1060Q420,1150 530,1270Q600,1345 630,1409H763Z" transform="translate(20.63,18.7) scale(0.004980,-0.004980)" fill="#222" stroke="#222" stroke-width="50.2"/>
<path d="M763,0H583V1100Q470,990 223,890V1060Q420,1150 530,1270Q600,1345 630,1409H763Z" transform="translate(223.41,176.2) scale(0.004980,-0.004980)" fill="#222" stroke="#222" stroke-width="50.2"/>
<path d="M763,0H583V1100Q470,990 223,890V1060Q420,1150 530,1270Q600,1345 630,1409H763Z" transform="translate(261.29,176.2) scale(0.004980,-0.004980)" fill="#222" stroke="#222" stroke-width="50.2"/>
<path d="M763,0H583V1100Q470,990 223,890V1060Q420,1150 530,1270Q600,1345 630,1409H763Z" transform="translate(415.29,52) scale(0.004761,-0.004761)" fill="#222" stroke="#222" stroke-width="52.51"/>
<path d="M763,0H583V1100Q470,990 223,890V1060Q420,1150 530,1270Q600,1345 630,1409H763Z" transform="translate(399.74,70.4) scale(0.004761,-0.004761)" fill="#222" stroke="#222" stroke-width="52.51"/>
<path d="M763,0H583V1100Q470,990 223,890V1060Q420,1150 530,1270Q600,1345 630,1409H763Z" transform="translate(469.65,108.4) scale(0.004761,-0.004761)" fill="#222" stroke="#222" stroke-width="52.51"/>
<path d="M763,0H583V1100Q470,990 223,890V1060Q420,1150 530,1270Q600,1345 630,1409H763Z" transform="translate(400.05,136) scale(0.004761,-0.004761)" fill="#222" stroke="#222" stroke-width="52.51"/>
<path d="M763,0H583V1100Q470,990 223,890V1060Q420,1150 530,1270Q600,1345 630,1409H763Z" transform="translate(404.76,136) scale(0.004761,-0.004761)" fill="#222" stroke="#222" stroke-width="52.51"/>
<path d="M763,0H583V1100Q470,990 223,890V1060Q420,1150 530,1270Q600,1345 630,1409H763Z" transform="translate(340.15,151.4) scale(0.004761,-0.004761)" fill="#222" stroke="#222" stroke-width="52.51"/>
<path d="M763,0H583V1100Q470,990 223,890V1060Q420,1150 530,1270Q600,1345 630,1409H763Z" transform="translate(21.23,229.1) scale(0.004980,-0.004980)" fill="#222" stroke="#222" stroke-width="50.2"/>
<path d="M763,0H583V1100Q470,990 223,890V1060Q420,1150 530,1270Q600,1345 630,1409H763Z" transform="translate(223.81,387.8) scale(0.004980,-0.004980)" fill="#222" stroke="#222" stroke-width="50.2"/>
<path d="M763,0H583V1100Q470,990 223,890V1060Q420,1150 530,1270Q600,1345 630,1409H763Z" transform="translate(261.69,387.8) scale(0.004980,-0.004980)" fill="#222" stroke="#222" stroke-width="50.2"/>
<path d="M763,0H583V1100Q470,990 223,890V1060Q420,1150 530,1270Q600,1345 630,1409H763Z" transform="translate(422.49,343.5) scale(0.004761,-0.004761)" fill="#222" stroke="#222" stroke-width="52.51"/>
<path d="M763,0H583V1100Q470,990 223,890V1060Q420,1150 530,1270Q600,1345 630,1409H763Z" transform="translate(21.13,443.8) scale(0.004980,-0.004980)" fill="#222" stroke="#222" stroke-width="50.2"/>
<path d="M763,0H583V1100Q470,990 223,890V1060Q420,1150 530,1270Q600,1345 630,1409H763Z" transform="translate(225.42,603) scale(0.004980,-0.004980)" fill="#222" stroke="#222" stroke-width="50.2"/>
<path d="M763,0H583V1100Q470,990 223,890V1060Q420,1150 530,1270Q600,1345 630,1409H763Z" transform="translate(263.69,603) scale(0.004980,-0.004980)" fill="#222" stroke="#222" stroke-width="50.2"/>
<path d="M763,0H583V1100Q470,990 223,890V1060Q420,1150 530,1270Q600,1345 630,1409H763Z" transform="translate(20.03,652.5) scale(0.004980,-0.004980)" fill="#222" stroke="#222" stroke-width="50.2"/>
<path d="M763,0H583V1100Q470,990 223,890V1060Q420,1150 530,1270Q600,1345 630,1409H763Z" transform="translate(224.52,811.3) scale(0.004980,-0.004980)" fill="#222" stroke="#222" stroke-width="50.2"/>
<path d="M763,0H583V1100Q470,990 223,890V1060Q420,1150 530,1270Q600,1345 630,1409H763Z" transform="translate(262.69,811.3) scale(0.004980,-0.004980)" fill="#222" stroke="#222" stroke-width="50.2"/>
<path d="M763,0H583V1100Q470,990 223,890V1060Q420,1150 530,1270Q600,1345 630,1409H763Z" transform="translate(350.01,748.4) scale(0.004761,-0.004761)" fill="#222" stroke="#222" stroke-width="52.51"/>
<path d="M763,0H583V1100Q470,990 223,890V1060Q420,1150 530,1270Q600,1345 630,1409H763Z" transform="translate(19.63,864.1) scale(0.004980,-0.004980)" fill="#222" stroke="#222" stroke-width="50.2"/>
<path d="M763,0H583V1100Q470,990 223,890V1060Q420,1150 530,1270Q600,1345 630,1409H763Z" transform="translate(224.92,1022) scale(0.004980,-0.004980)" fill="#222" stroke="#222" stroke-width="50.2"/>
<path d="M763,0H583V1100Q470,990 223,890V1060Q420,1150 530,1270Q600,1345 630,1409H763Z" transform="translate(263.29,1022) scale(0.004980,-0.004980)" fill="#222" stroke="#222" stroke-width="50.2"/>
<path d="M763,0H583V1100Q470,990 223,890V1060Q420,1150 530,1270Q600,1345 630,1409H763Z" transform="translate(412.34,977) scale(0.004761,-0.004761)" fill="#222" stroke="#222" stroke-width="52.51"/>
</g>
</svg>
</body></html>
